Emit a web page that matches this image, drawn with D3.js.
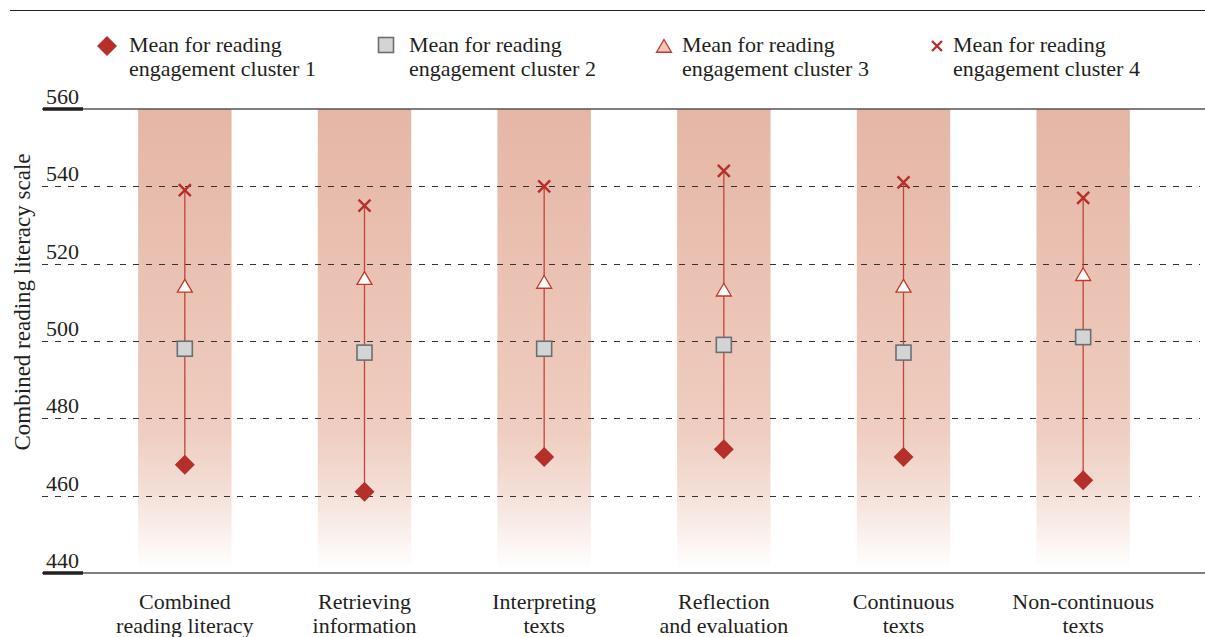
<!DOCTYPE html>
<html>
<head>
<meta charset="utf-8">
<script src="https://cdn.jsdelivr.net/npm/d3@7"></script>
<style>
  body { margin: 0; background: #fff; }
</style>
</head>
<body>
<div id="chart"></div>
<script>
// categories (two-line labels)
var categories = [
  ["Combined", "reading literacy"],
  ["Retrieving", "information"],
  ["Interpreting", "texts"],
  ["Reflection", "and evaluation"],
  ["Continuous", "texts"],
  ["Non-continuous", "texts"]
]
var cluster1 = [468, 461, 470, 472, 470, 464]
var cluster2 = [498, 497, 498, 499, 497, 501]
var cluster3 = [514, 516, 515, 513, 514, 517]
var cluster4 = [539, 535, 540, 544, 541, 537]
var yTicks = [440, 460, 480, 500, 520, 540, 560]
var legendLabels = [
  ["Mean for reading", "engagement cluster 1"],
  ["Mean for reading", "engagement cluster 2"],
  ["Mean for reading", "engagement cluster 3"],
  ["Mean for reading", "engagement cluster 4"]
]

var width = 1205, height = 637
var red = "#b5302a"
var serif = "Liberation Serif"

var svg = d3.select("#chart").append("svg")
  .attr("width", width)
  .attr("height", height)

var defs = svg.append("defs")
var grad = defs.append("linearGradient")
  .attr("id", "barGrad")
  .attr("x1", 0).attr("y1", 0).attr("x2", 0).attr("y2", 1)
grad.append("stop").attr("offset", "0%").attr("stop-color", "#e5b6a5")
grad.append("stop").attr("offset", "70%").attr("stop-color", "#efcdc0")
grad.append("stop").attr("offset", "82%").attr("stop-color", "#f3ddd4")
grad.append("stop").attr("offset", "100%").attr("stop-color", "#ffffff")

var y = d3.scaleLinear().domain([440, 560]).range([573, 109])
var x = d3.scaleBand()
  .domain(d3.range(categories.length))
  .range([95, 1173])
  .paddingInner(0.48)
  .paddingOuter(0.24)

// top rule
svg.append("line")
  .attr("x1", 10).attr("x2", width).attr("y1", 10.5).attr("y2", 10.5)
  .attr("stroke", "#231f20").attr("stroke-width", 1.2)

// shaded bars
svg.selectAll(".band")
  .data(categories)
  .enter()
  .append("rect")
  .attr("class", "band")
  .attr("x", function (d, i) { return x(i) })
  .attr("y", y(560))
  .attr("width", x.bandwidth())
  .attr("height", y(440) - y(560) - 4)
  .attr("fill", "url(#barGrad)")

// gridlines
svg.selectAll(".grid")
  .data(yTicks.filter(function (t) { return t > 440 && t < 560 }))
  .enter()
  .append("line")
  .attr("x1", 42).attr("x2", 1200)
  .attr("y1", function (d) { return Math.round(y(d)) + 0.5 })
  .attr("y2", function (d) { return Math.round(y(d)) + 0.5 })
  .attr("stroke", "#333")
  .attr("stroke-width", 1)
  .attr("stroke-dasharray", "6,7")

// solid top/bottom lines
svg.selectAll(".edge")
  .data([440, 560])
  .enter()
  .append("line")
  .attr("x1", 42).attr("x2", width)
  .attr("y1", function (d) { return y(d) })
  .attr("y2", function (d) { return y(d) })
  .attr("stroke", "#555")
  .attr("stroke-width", 1.3)
svg.selectAll(".edgeTick")
  .data([440, 560])
  .enter()
  .append("line")
  .attr("x1", 43).attr("x2", 83)
  .attr("y1", function (d) { return y(d) })
  .attr("y2", function (d) { return y(d) })
  .attr("stroke", "#231f20")
  .attr("stroke-width", 3.5)

// tick labels
svg.selectAll(".tickLabel")
  .data(yTicks)
  .enter()
  .append("text")
  .attr("x", 46)
  .attr("y", function (d) { return y(d) - 5 })
  .attr("font-family", serif)
  .attr("font-size", 22)
  .attr("fill", "#231f20")
  .text(function (d) { return d })

// y axis title
svg.append("text")
  .attr("transform", "translate(30,302) rotate(-90)")
  .attr("text-anchor", "middle")
  .attr("font-family", serif)
  .attr("font-size", 23)
  .attr("fill", "#231f20")
  .text("Combined reading literacy scale")

// category labels
var cat = svg.selectAll(".cat")
  .data(categories)
  .enter()
  .append("text")
  .attr("text-anchor", "middle")
  .attr("font-family", serif)
  .attr("font-size", 22)
  .attr("fill", "#231f20")
cat.append("tspan")
  .attr("x", function (d, i) { return x(i) + x.bandwidth() / 2 })
  .attr("y", 609)
  .text(function (d) { return d[0] })
cat.append("tspan")
  .attr("x", function (d, i) { return x(i) + x.bandwidth() / 2 })
  .attr("y", 633)
  .text(function (d) { return d[1] })

var cx = function (i) { return x(i) + x.bandwidth() / 2 }

// range lines
svg.selectAll(".range")
  .data(categories)
  .enter()
  .append("line")
  .attr("x1", function (d, i) { return cx(i) })
  .attr("x2", function (d, i) { return cx(i) })
  .attr("y1", function (d, i) { return y(d3.max([cluster1[i], cluster2[i], cluster3[i], cluster4[i]])) })
  .attr("y2", function (d, i) { return y(d3.min([cluster1[i], cluster2[i], cluster3[i], cluster4[i]])) })
  .attr("stroke", "#c0443a")
  .attr("stroke-width", 1.3)

// marker drawers
function diamond(g, px, py, s) {
  g.append("path")
    .attr("d", "M" + px + "," + (py - s) + "L" + (px + s) + "," + py + "L" + px + "," + (py + s) + "L" + (px - s) + "," + py + "Z")
    .attr("fill", red)
}
function square(g, px, py, s) {
  g.append("rect")
    .attr("x", px - s).attr("y", py - s)
    .attr("width", 2 * s).attr("height", 2 * s)
    .attr("fill", "#d3d4d5").attr("stroke", "#6d6e70").attr("stroke-width", 1.6)
}
function triangle(g, px, py, s, fill) {
  g.append("path")
    .attr("d", "M" + px + "," + (py - s) + "L" + (px + s * 1.0) + "," + (py + s * 0.7) + "L" + (px - s * 1.0) + "," + (py + s * 0.7) + "Z")
    .attr("fill", fill).attr("stroke", "#c0392b").attr("stroke-width", 1.3)
}
function cross(g, px, py, s) {
  g.append("path")
    .attr("d", "M" + (px - s) + "," + (py - s) + "L" + (px + s) + "," + (py + s) + "M" + (px + s) + "," + (py - s) + "L" + (px - s) + "," + (py + s))
    .attr("stroke", red).attr("stroke-width", 2.4)
}

var marks = svg.append("g")
categories.forEach(function (d, i) {
  diamond(marks, cx(i), y(cluster1[i]), 10)
  square(marks, cx(i), y(cluster2[i]), 7.5)
  triangle(marks, cx(i), y(cluster3[i]), 7.5, "#fff")
  cross(marks, cx(i), y(cluster4[i]), 6)
})

// legend
var legendX = [107, 386, 664, 937]
var legendTextX = [129, 409, 682, 953]
var legend = svg.append("g")
diamond(legend, legendX[0], 46, 10)
square(legend, legendX[1], 45, 7.5)
triangle(legend, legendX[2], 47, 7.5, "#f2c4b8")
cross(legend, legendX[3], 46, 5)
legendLabels.forEach(function (d, i) {
  var t = legend.append("text").attr("font-family", serif).attr("font-size", 22).attr("fill", "#231f20")
  t.append("tspan").attr("x", legendTextX[i]).attr("y", 52).text(d[0])
  t.append("tspan").attr("x", legendTextX[i]).attr("y", 76).text(d[1])
})
</script>
</body>
</html>
